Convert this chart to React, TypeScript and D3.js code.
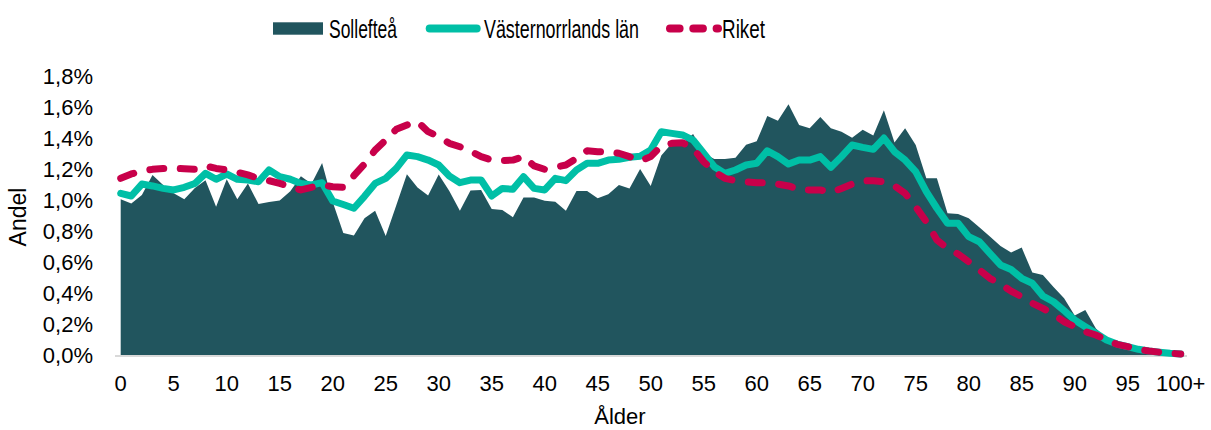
import * as d3 from "d3";

// Åldersklasser 0–99 samt 100+
const ages: string[] = Array.from({ length: 100 }, (_, i) => String(i)).concat("100+");
const xTickLabels = ["0", "5", "10", "15", "20", "25", "30", "35", "40", "45", "50", "55", "60", "65", "70", "75", "80", "85", "90", "95", "100+"];
const yTicks = [0, 0.2, 0.4, 0.6, 0.8, 1.0, 1.2, 1.4, 1.6, 1.8];

// Andel av befolkningen (%) per ålder
const solleftea = [
  1.008, 0.98, 1.035, 1.165, 1.1, 1.046, 1.008, 1.08, 1.13, 0.96,
  1.137, 1.008, 1.11, 0.977, 0.99, 1.0, 1.06, 1.157, 1.108, 1.242,
  0.99, 0.79, 0.775, 0.885, 0.934, 0.771, 0.97, 1.169, 1.084, 1.032,
  1.167, 1.062, 0.934, 1.065, 1.068, 0.945, 0.939, 0.892, 1.02, 1.02,
  0.999, 0.992, 0.934, 1.061, 1.061, 1.014, 1.04, 1.1, 1.078, 1.204,
  1.094, 1.29, 1.37, 1.37, 1.429, 1.305, 1.268, 1.268, 1.276, 1.36,
  1.382, 1.545, 1.514, 1.621, 1.487, 1.466, 1.539, 1.466, 1.444, 1.405,
  1.457, 1.42, 1.582, 1.375, 1.466, 1.358, 1.143, 1.143, 0.917, 0.913,
  0.885, 0.827, 0.767, 0.706, 0.665, 0.696, 0.535, 0.52, 0.442, 0.369,
  0.258, 0.294, 0.175, 0.111, 0.079, 0.057, 0.04, 0.03, 0.02, 0.015,
  0.01,
];

const vasternorrland = [
  1.046, 1.029, 1.106, 1.094, 1.078, 1.068, 1.085, 1.11, 1.175, 1.137,
  1.171, 1.137, 1.132, 1.121, 1.197, 1.154, 1.137, 1.11, 1.1, 1.115,
  0.997, 0.974, 0.95, 1.027, 1.11, 1.143, 1.207, 1.294, 1.283, 1.261,
  1.229, 1.158, 1.115, 1.132, 1.132, 1.029, 1.078, 1.072, 1.154, 1.078,
  1.068, 1.143, 1.128, 1.197, 1.24, 1.24, 1.261, 1.266, 1.279, 1.285,
  1.326, 1.444, 1.433, 1.423, 1.39, 1.305, 1.218, 1.175, 1.197, 1.229,
  1.24, 1.321, 1.283, 1.235, 1.261, 1.261, 1.283, 1.214, 1.283, 1.358,
  1.343, 1.33, 1.403, 1.315, 1.261, 1.186, 1.057, 0.95, 0.853, 0.853,
  0.767, 0.734, 0.659, 0.584, 0.555, 0.498, 0.466, 0.384, 0.347, 0.289,
  0.229, 0.186, 0.143, 0.1, 0.074, 0.057, 0.04, 0.029, 0.021, 0.014,
  0.01,
];

const riket = [
  1.143, 1.171, 1.19, 1.201, 1.207, 1.207, 1.205, 1.201, 1.223, 1.207,
  1.197, 1.182, 1.165, 1.143, 1.128, 1.11, 1.089, 1.068, 1.085, 1.1,
  1.089, 1.085, 1.16, 1.235, 1.325, 1.39, 1.459, 1.487, 1.509, 1.444,
  1.412, 1.369, 1.347, 1.318, 1.283, 1.261, 1.257, 1.261, 1.283, 1.223,
  1.201, 1.214, 1.229, 1.272, 1.321, 1.315, 1.315, 1.305, 1.283, 1.255,
  1.283, 1.352, 1.369, 1.373, 1.337, 1.25, 1.186, 1.143, 1.128, 1.121,
  1.115, 1.115, 1.106, 1.094, 1.072, 1.068, 1.068, 1.051, 1.078, 1.106,
  1.126, 1.128, 1.121, 1.095, 1.046, 0.96, 0.863, 0.745, 0.692, 0.655,
  0.605, 0.552, 0.498, 0.461, 0.415, 0.379, 0.337, 0.304, 0.266, 0.218,
  0.186, 0.154, 0.132, 0.1, 0.072, 0.057, 0.04, 0.029, 0.021, 0.014,
  0.01,
];

const W = 1211;
const H = 430;
const AREA = "#21555e";
const TEAL = "#00bfa6";
const RED = "#c8004a";
const FONT = "'Liberation Sans', Arial, sans-serif";
const NARROW = "'Liberation Sans Narrow', 'Arial Narrow', 'Liberation Sans', Arial, sans-serif";

export default function App() {
  const x = d3.scalePoint<string>().domain(ages).range([120.7, 1180.7]);
  const y = d3.scaleLinear().domain([0, 1.8]).range([355.5, 76.5]);

  const area = d3
    .area<number>()
    .x((_, i) => x(ages[i]) ?? 0)
    .y0(y(0))
    .y1((d) => y(d));

  const line = d3
    .line<number>()
    .x((_, i) => x(ages[i]) ?? 0)
    .y((d) => y(d));

  const fmt = (v: number) => v.toFixed(1).replace(".", ",") + "%";

  return (
    <svg
      width={W}
      height={H}
      style={{ position: "absolute", left: 0, top: 0, background: "#fff" }}
      fontFamily={FONT}
    >
      {/* legend */}
      <rect x={273} y={22.3} width={50} height={12.4} fill={AREA} />
      <text x={329} y={29} fontFamily={NARROW} fontSize={25} dominantBaseline="central" textLength={68} lengthAdjust="spacingAndGlyphs" fill="#000">
        Sollefteå
      </text>
      <line x1={429.7} x2={476.7} y1={28.5} y2={28.5} stroke={TEAL} strokeWidth={8} strokeLinecap="round" />
      <text x={484} y={29} fontFamily={NARROW} fontSize={25} dominantBaseline="central" textLength={155} lengthAdjust="spacingAndGlyphs" fill="#000">
        Västernorrlands län
      </text>
      <line x1={670} x2={718} y1={28.5} y2={28.5} stroke={RED} strokeWidth={8} strokeLinecap="round" strokeDasharray="9.6 13.7" />
      <text x={722} y={29} fontFamily={NARROW} fontSize={25} dominantBaseline="central" textLength={43} lengthAdjust="spacingAndGlyphs" fill="#000">
        Riket
      </text>

      {/* y axis labels */}
      {yTicks.map((t) => (
        <text key={t} x={93} y={y(t)} textAnchor="end" dominantBaseline="central" fontSize={22} fill="#000">
          {fmt(t)}
        </text>
      ))}
      <text
        transform={`translate(17.5, ${y(0.9) + 1}) rotate(-90)`}
        textAnchor="middle"
        dominantBaseline="central"
        fontSize={23}
        fill="#000"
      >
        Andel
      </text>

      {/* series */}
      <path d={area(solleftea) ?? ""} fill={AREA} />
      <line x1={115} x2={1187} y1={y(0) + 0.5} y2={y(0) + 0.5} stroke="#d9d9d9" strokeWidth={2} />
      <path d={line(vasternorrland) ?? ""} fill="none" stroke={TEAL} strokeWidth={7} strokeLinejoin="round" strokeLinecap="round" />
      <path d={line(riket) ?? ""} fill="none" stroke={RED} strokeWidth={7} strokeLinejoin="round" strokeLinecap="round" strokeDasharray="14 16.5" />

      {/* x axis labels */}
      {xTickLabels.map((l) => (
        <text key={l} x={x(l) ?? 0} y={383} textAnchor="middle" dominantBaseline="central" fontSize={22} fill="#000">
          {l}
        </text>
      ))}
      <text x={620} y={416} textAnchor="middle" dominantBaseline="central" fontSize={22} fill="#000">
        Ålder
      </text>
    </svg>
  );
}
